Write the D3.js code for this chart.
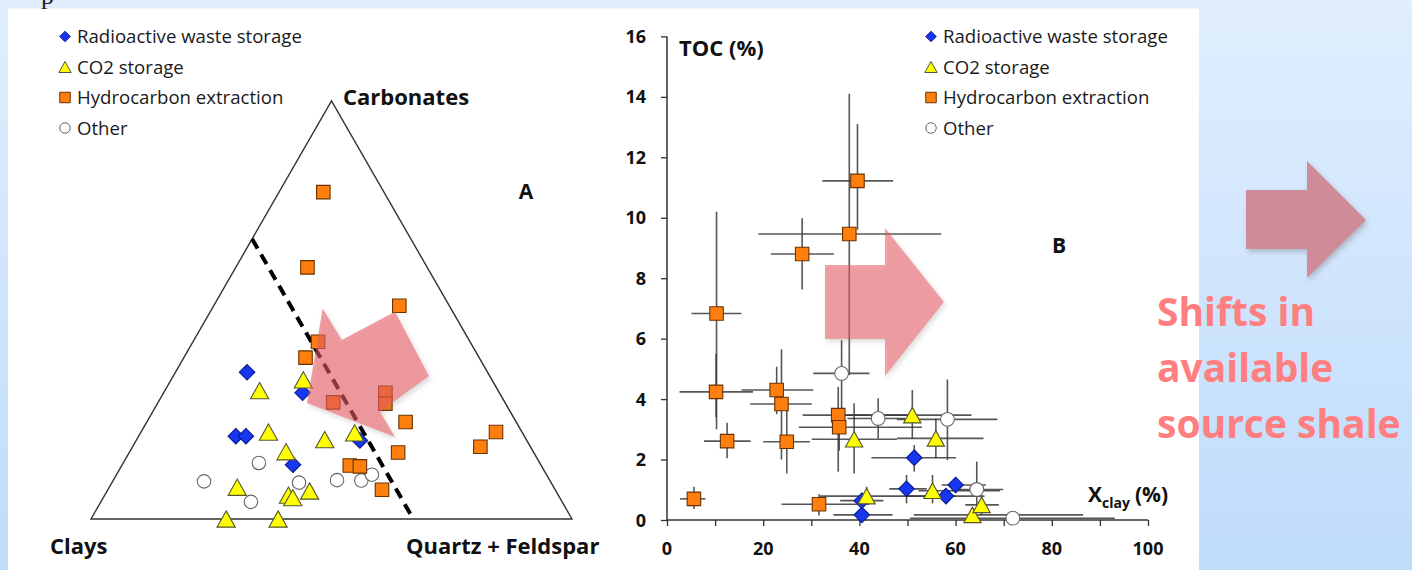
<!DOCTYPE html>
<html>
<head>
<meta charset="utf-8">
<script src="https://cdn.jsdelivr.net/npm/d3@7"></script>
<style>
  body { margin: 0; overflow: hidden; }
  svg { display: block; }
  text { font-family: "Open Sans", sans-serif; }
</style>
</head>
<body>
<svg id="chart" width="1412" height="570"></svg>
<script>
// legend / series names
var categories = ["Radioactive waste storage", "CO2 storage", "Hydrocarbon extraction", "Other"];

// panel A: compositions [clays, quartz+feldspar, carbonates] in %
var ternRadioactive = [[50.0,14.9,35.1],[40.9,28.9,30.2],[60.0,20.2,19.8],[57.9,22.3,19.8],[34.7,46.5,18.8],[51.5,35.5,13.0]];
var ternCO2 = [[39.2,27.5,33.3],[49.6,19.7,30.7],[52.7,26.5,20.8],[41.9,39.1,19.0],[34.9,44.5,20.6],[51.4,32.5,16.1],
               [65.8,26.6,7.6],[56.1,38.2,5.7],[55.5,39.4,5.1],[51.2,42.1,6.7],[71.9,28.1,0],[61.1,38.9,0]];
var ternHydrocarbon = [[12.6,9.2,78.2],[24.9,14.9,60.2],[10.4,38.6,51.0],[31.6,26.0,42.4],[36.1,25.3,38.6],[35.7,36.4,27.9],
                       [23.7,46.1,30.2],[25.0,47.4,27.6],[23.0,53.8,23.2],[28.2,55.9,15.9],[39.8,47.4,12.8],[37.8,49.6,12.6],
                       [36.0,57.0,7.0],[10.4,72.3,17.3],[5.4,73.8,20.8]];
var ternOther = [[58.4,28.2,13.4],[72.0,19.0,9.0],[64.7,31.2,4.1],[52.4,38.9,8.7],[44.2,46.5,9.3],[39.2,51.6,9.2],[36.3,53.1,10.6]];
var clayCutoff = 33; // dashed line of constant clay content

// panel B: [Xclay, TOC, Xclay min, Xclay max, TOC min, TOC max]
var tocRadioactive = [[40.5,0.17,34.6,46.9,0.17,0.17],[40.5,0.64,36.0,45.0,0.40,0.90],[49.8,1.03,46.2,54.0,0.55,1.49],
                      [51.4,2.06,42.5,60.1,1.60,2.48],[58.0,0.79,50.0,66.0,0.55,1.00],[60.0,1.16,57.1,66.3,0.90,1.40]];
var tocCO2 = [[38.9,2.67,30.1,47.8,1.54,3.86],[41.5,0.79,31.8,60.0,0.50,1.10],[51.0,3.47,35.0,63.3,2.70,4.30],
              [55.9,2.70,47.8,65.8,2.04,3.36],[55.2,0.97,52.3,69.2,0.55,1.49],[63.5,0.17,51.3,86.5,0.05,0.40],
              [65.4,0.50,62.0,69.0,0.17,0.77]];
var tocHydrocarbon = [[5.6,0.70,2.7,8.0,0.36,1.10],[10.3,6.83,5.1,15.5,3.0,10.2],[10.2,4.24,2.6,17.9,3.4,5.5],
                      [12.5,2.61,7.7,17.4,2.04,3.22],[22.8,4.30,15.5,30.4,3.5,5.07],[23.8,3.84,17.3,30.1,2.0,5.65],
                      [24.9,2.59,20.0,29.7,1.54,3.75],[31.6,0.52,23.8,42.0,0.15,0.85],[35.6,3.47,28.2,50.0,1.6,4.4],
                      [35.8,3.07,27.4,53.0,2.3,3.3],[28.1,8.80,21.6,34.7,7.63,9.98],[37.9,9.46,19.0,57.0,4.8,14.1],
                      [39.6,11.22,32.3,47.0,9.6,13.1]];
var tocOther = [[36.3,4.85,30.4,42.1,3.5,5.95],[43.9,3.36,37.5,49.5,2.70,4.03],[58.3,3.33,47.8,68.7,1.98,4.65],
                [64.4,1.01,60.6,69.9,0.50,1.93],[71.9,0.06,50.5,93.1,0.06,0.06]];

var xTicks = [0,10,20,30,40,50,60,70,80,90,100];
var xTickLabels = [0,20,40,60,80,100];
var yTicks = [0,2,4,6,8,10,12,14,16];
var sideText = ["Shifts in", "available", "source shale"];

var styles = {
  "Radioactive waste storage": {shape:"diamond", fill:"#1636f0", stroke:"#0a1a90"},
  "CO2 storage": {shape:"triangle", fill:"#ffff00", stroke:"#555533"},
  "Hydrocarbon extraction": {shape:"square", fill:"#ff7f0e", stroke:"#6a3200"},
  "Other": {shape:"circle", fill:"#ffffff", stroke:"#666666"}
};

var svg = d3.select("#chart");
var defs = svg.append("defs");
var grad = defs.append("linearGradient").attr("id","bg").attr("x1",0).attr("y1",0).attr("x2",0).attr("y2",1);
grad.append("stop").attr("offset","0%").attr("stop-color","#e0eefe");
grad.append("stop").attr("offset","100%").attr("stop-color","#bfdcfb");

// plain drop shadow for the opaque arrow
var sh = defs.append("filter").attr("id","shadow").attr("x","-20%").attr("y","-20%").attr("width","150%").attr("height","150%");
sh.append("feDropShadow").attr("dx",2).attr("dy",3).attr("stdDeviation",2.5).attr("flood-color","#555").attr("flood-opacity",0.3);

// shadow kept outside the shape, for the see-through arrows
var sh2 = defs.append("filter").attr("id","outshadow").attr("x","-20%").attr("y","-20%").attr("width","150%").attr("height","150%");
sh2.append("feGaussianBlur").attr("in","SourceAlpha").attr("stdDeviation",2.5).attr("result","blur");
sh2.append("feOffset").attr("in","blur").attr("dx",2).attr("dy",3).attr("result","off");
sh2.append("feComponentTransfer").attr("in","off").attr("result","offA")
  .append("feFuncA").attr("type","linear").attr("slope",0.4);
sh2.append("feFlood").attr("flood-color","#666");
sh2.append("feComposite").attr("in2","offA").attr("operator","in").attr("result","col");
sh2.append("feComposite").attr("in","col").attr("in2","SourceAlpha").attr("operator","out").attr("result","outside");
var mrg = sh2.append("feMerge");
mrg.append("feMergeNode").attr("in","outside");
mrg.append("feMergeNode").attr("in","SourceGraphic");

svg.append("rect").attr("width",1412).attr("height",570).attr("fill","url(#bg)");
svg.append("rect").attr("x",8).attr("y",8.5).attr("width",1191).attr("height",562).attr("fill","#fff");
svg.append("text").attr("x",41).attr("y",4)
  .style("font-family","Liberation Serif, serif").attr("font-size",26).attr("fill","#222").text("p");

function markerPath(shape, s) {
  if (shape === "diamond") return "M0," + (-s/2) + "L" + (s/2) + ",0L0," + (s/2) + "L" + (-s/2) + ",0Z";
  if (shape === "square") return "M" + (-s/2) + "," + (-s/2) + "h" + s + "v" + s + "h" + (-s) + "Z";
  if (shape === "triangle") { var w = s*1.12, h = s; return "M0," + (-h/2) + "L" + (w/2) + "," + (h/2) + "L" + (-w/2) + "," + (h/2) + "Z"; }
  return d3.arc()({innerRadius:0, outerRadius:s/2, startAngle:0, endAngle:2*Math.PI});
}
var markerSize = {diamond:15.5, square:13.5, triangle:15.5, circle:13.5};

function drawMarkers(g, pts, cat, sizeScale) {
  var st = styles[cat];
  g.selectAll(null).data(pts).enter().append("path")
    .attr("transform", function(d){ return "translate(" + d[0] + "," + d[1] + ")"; })
    .attr("d", markerPath(st.shape, markerSize[st.shape]*sizeScale))
    .attr("fill", st.fill).attr("stroke", st.stroke).attr("stroke-width", 1.1);
}

function drawLegend(x, y0) {
  var lg = svg.append("g");
  categories.forEach(function(cat, i) {
    var y = y0 + i*30.5;
    var st = styles[cat];
    lg.append("path").attr("transform","translate(" + x + "," + y + ")")
      .attr("d", markerPath(st.shape, st.shape === "triangle" ? 11 : 10.5))
      .attr("fill", st.fill).attr("stroke", st.stroke).attr("stroke-width", 1);
    lg.append("text").attr("x", x + 12).attr("y", y + 6.5).attr("font-size", 18.6)
      .attr("fill", "#1a1a1a").text(cat);
  });
}

// ---------- panel A: ternary ----------
var tx = d3.scaleLinear().domain([0,100]).range([91, 572]);
var ty = d3.scaleLinear().domain([0,100]).range([519, 101]);
function tern(p) { return [tx(p[1] + p[2]/2), ty(p[2])]; }

var gA = svg.append("g");
var verts = [[100,0,0],[0,100,0],[0,0,100]].map(tern);
gA.append("path").attr("d", "M" + verts.join("L") + "Z").attr("fill","none")
  .attr("stroke","#333").attr("stroke-width",1.4);
var cut = [[clayCutoff, 0, 100-clayCutoff],[clayCutoff, 100-clayCutoff, 0]].map(tern);
gA.append("line").attr("x1",cut[0][0]).attr("y1",cut[0][1]).attr("x2",cut[1][0]).attr("y2",cut[1][1])
  .attr("stroke","#000").attr("stroke-width",4).attr("stroke-dasharray","11,7");

drawMarkers(gA, ternOther.map(tern), "Other", 1);
drawMarkers(gA, ternRadioactive.map(tern), "Radioactive waste storage", 1);
drawMarkers(gA, ternCO2.map(tern), "CO2 storage", 1.05);
drawMarkers(gA, ternHydrocarbon.map(tern), "Hydrocarbon extraction", 1);

gA.append("text").attr("x",343).attr("y",104.5).attr("font-size",22).attr("font-weight","bold").attr("fill","#111").text("Carbonates");
gA.append("text").attr("x",50).attr("y",553.5).attr("font-size",22).attr("font-weight","bold").attr("fill","#111").text("Clays");
gA.append("text").attr("x",406).attr("y",553.5).attr("font-size",22).attr("font-weight","bold").attr("fill","#111").text("Quartz + Feldspar");
gA.append("text").attr("x",526).attr("y",198.5).attr("text-anchor","middle").attr("font-size",21).attr("font-weight","bold").attr("fill","#111").text("A");
drawLegend(65, 36.5);

gA.append("polygon")
  .attr("points", [[307,403],[322.7,308.3],[341.7,340],[395,311.7],[429,376],[380,411.7],[395,437]].join(" "))
  .attr("fill","#e6555f").attr("fill-opacity",0.58).attr("filter","url(#outshadow)");

// ---------- panel B: TOC vs Xclay ----------
var x = d3.scaleLinear().domain([0,100]).range([667, 1148]);
var y = d3.scaleLinear().domain([0,16]).range([520, 36.4]);
var gB = svg.append("g");

gB.append("g").attr("transform","translate(0,520)")
  .call(d3.axisBottom(x).tickValues(xTicks).tickSize(6).tickFormat(""))
  .call(function(g){ g.select(".domain").attr("stroke","#333").attr("stroke-width",1.5).attr("d","M667,0H1148"); g.selectAll(".tick line").attr("stroke","#333").attr("stroke-width",1.3); });
gB.append("g").attr("transform","translate(667,0)")
  .call(d3.axisLeft(y).tickValues(yTicks).tickSize(6).tickFormat(""))
  .call(function(g){ g.select(".domain").attr("stroke","#333").attr("stroke-width",1.5).attr("d","M0,36.4V520"); g.selectAll(".tick line").attr("stroke","#333").attr("stroke-width",1.3); });

gB.selectAll(".xl").data(xTickLabels).enter().append("text")
  .attr("x", function(d){ return x(d); }).attr("y", 555).attr("text-anchor","middle")
  .attr("font-size",18).attr("font-weight","bold").attr("fill","#111").text(function(d){ return d; });
gB.selectAll(".yl").data(yTicks).enter().append("text")
  .attr("x", 646).attr("y", function(d){ return y(d) + 6.5; }).attr("text-anchor","end")
  .attr("font-size",18).attr("font-weight","bold").attr("fill","#111").text(function(d){ return d; });

gB.append("text").attr("x",679).attr("y",56).attr("font-size",22).attr("font-weight","bold").attr("fill","#111").text("TOC (%)");
var xl = gB.append("text").attr("x",1088).attr("y",502).attr("font-size",21).attr("font-weight","bold").attr("fill","#111");
xl.append("tspan").text("X");
xl.append("tspan").attr("font-size",14).attr("dy",6).text("clay");
xl.append("tspan").attr("dy",-6).attr("dx",5).text("(%)");
gB.append("text").attr("x",1059).attr("y",253).attr("text-anchor","middle").attr("font-size",21).attr("font-weight","bold").attr("fill","#111").text("B");

var tocSeries = [[tocOther,"Other"],[tocRadioactive,"Radioactive waste storage"],[tocCO2,"CO2 storage"],[tocHydrocarbon,"Hydrocarbon extraction"]];
var bars = gB.append("g").attr("stroke","#3a3a3a").attr("stroke-width",1.6).attr("stroke-opacity",0.85);
tocSeries.forEach(function(s) {
  bars.selectAll(null).data(s[0]).enter().append("line")
    .attr("x1", function(d){ return x(d[2]); }).attr("x2", function(d){ return x(d[3]); })
    .attr("y1", function(d){ return y(d[1]); }).attr("y2", function(d){ return y(d[1]); });
  bars.selectAll(null).data(s[0]).enter().append("line")
    .attr("x1", function(d){ return x(d[0]); }).attr("x2", function(d){ return x(d[0]); })
    .attr("y1", function(d){ return y(d[4]); }).attr("y2", function(d){ return y(d[5]); });
});
tocSeries.forEach(function(s) {
  drawMarkers(gB, s[0].map(function(d){ return [x(d[0]), y(d[1])]; }), s[1], s[1] === "Other" ? 1.02 : 1);
});
drawLegend(931, 36.5);

gB.append("polygon")
  .attr("points", [[825,265],[885,265],[885,228],[944,302],[885,376],[885,339],[825,339]].join(" "))
  .attr("fill","#e6555f").attr("fill-opacity",0.55).attr("filter","url(#outshadow)");

// ---------- side note ----------
svg.append("polygon")
  .attr("points", [[1246,190],[1307,190],[1307,161],[1366,220],[1307,278],[1307,249],[1246,249]].join(" "))
  .attr("fill","#cf8b98").attr("filter","url(#shadow)");
svg.selectAll(".side").data(sideText).enter().append("text")
  .attr("x",1157).attr("y", function(d,i){ return 326 + i*56; })
  .attr("font-size",39).attr("font-weight","bold").attr("fill","#ff7e80").text(function(d){ return d; });
</script>
</body>
</html>
